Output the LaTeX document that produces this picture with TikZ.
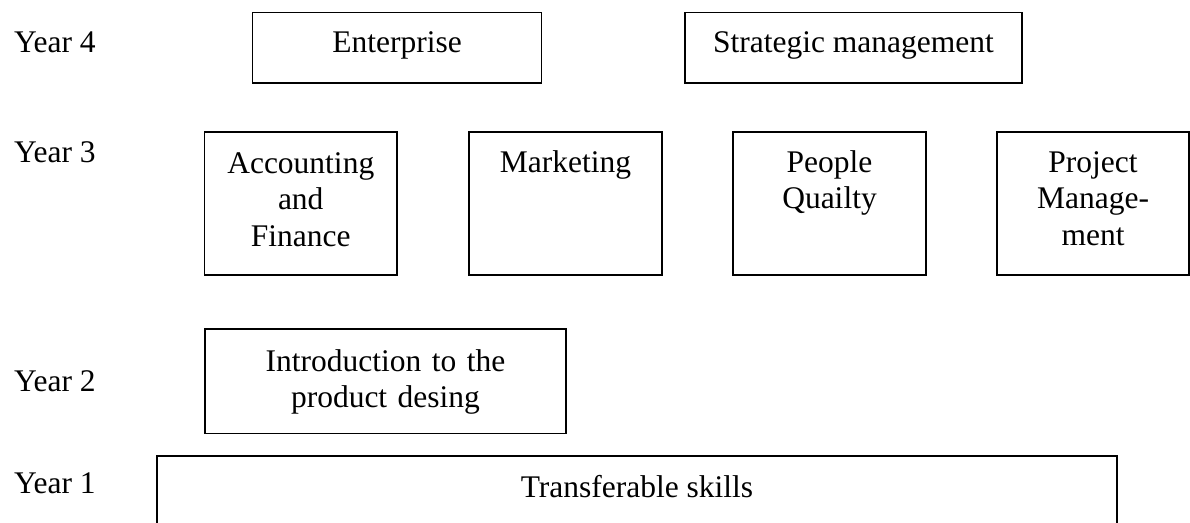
\documentclass[tikz,border=0pt]{standalone}
\usepackage{fontspec}
\setmainfont{Liberation Serif}
\begin{document}
\begin{tikzpicture}[x=1pt,y=-1pt,
  box/.style={draw=black, line width=1.7pt, inner sep=0pt, outer sep=0pt},
  lbl/.style={font=\fontsize{31.5}{36.5}\selectfont, inner sep=0pt, outer sep=0pt, anchor=base},
  yr/.style={lbl, anchor=base west},
  multi/.style={lbl, text width=190pt, align=center}]
\clip (0,0) rectangle (1190,522);
% Year labels
\node[yr] (y4) at (14,52) {Year 4};
\node[yr] (y3) at (14,162) {Year 3};
\node[yr] (y2) at (14,391) {Year 2};
\node[yr] (y1) at (14,493) {Year 1};
% Year 4 boxes
\node[box, minimum width=289pt, minimum height=70.5pt] (ent) at (397,47.75) {};
\node[lbl] (tent) at (397,52) {Enterprise};
\node[box, minimum width=337pt, minimum height=70.5pt] (strat) at (853.5,47.75) {};
\node[lbl] (tstrat) at (853.5,52) {Strategic management};
% Year 3 boxes
\node[box, minimum width=192.5pt, minimum height=143pt] (acc) at (300.75,203.5) {};
\node[multi] (tacc) at (300.75,173) {Accounting\\and\\Finance};
\node[box, minimum width=193pt, minimum height=143pt] (mkt) at (565.5,203.5) {};
\node[multi] (tmkt) at (565.5,172) {Marketing};
\node[box, minimum width=193pt, minimum height=143pt] (ppl) at (829.5,203.5) {};
\node[multi] (tppl) at (829.5,172) {People\\Quailty};
\node[box, minimum width=191.5pt, minimum height=143pt] (prj) at (1093,203.5) {};
\node[multi] (tprj) at (1093,172) {Project\\Manage-\\ment};
% Year 2 box
\node[box, minimum width=361pt, minimum height=104.5pt] (intro) at (385.5,381.25) {};
\node[multi, text width=340pt] (tintro) at (385.5,371) {Introduction to the\\product desing};
% Year 1 box
\node[box, minimum width=960pt, minimum height=120pt, anchor=north] (trans) at (637,456) {};
\node[lbl] (ttrans) at (637,497) {Transferable skills};
\end{tikzpicture}
\end{document}
